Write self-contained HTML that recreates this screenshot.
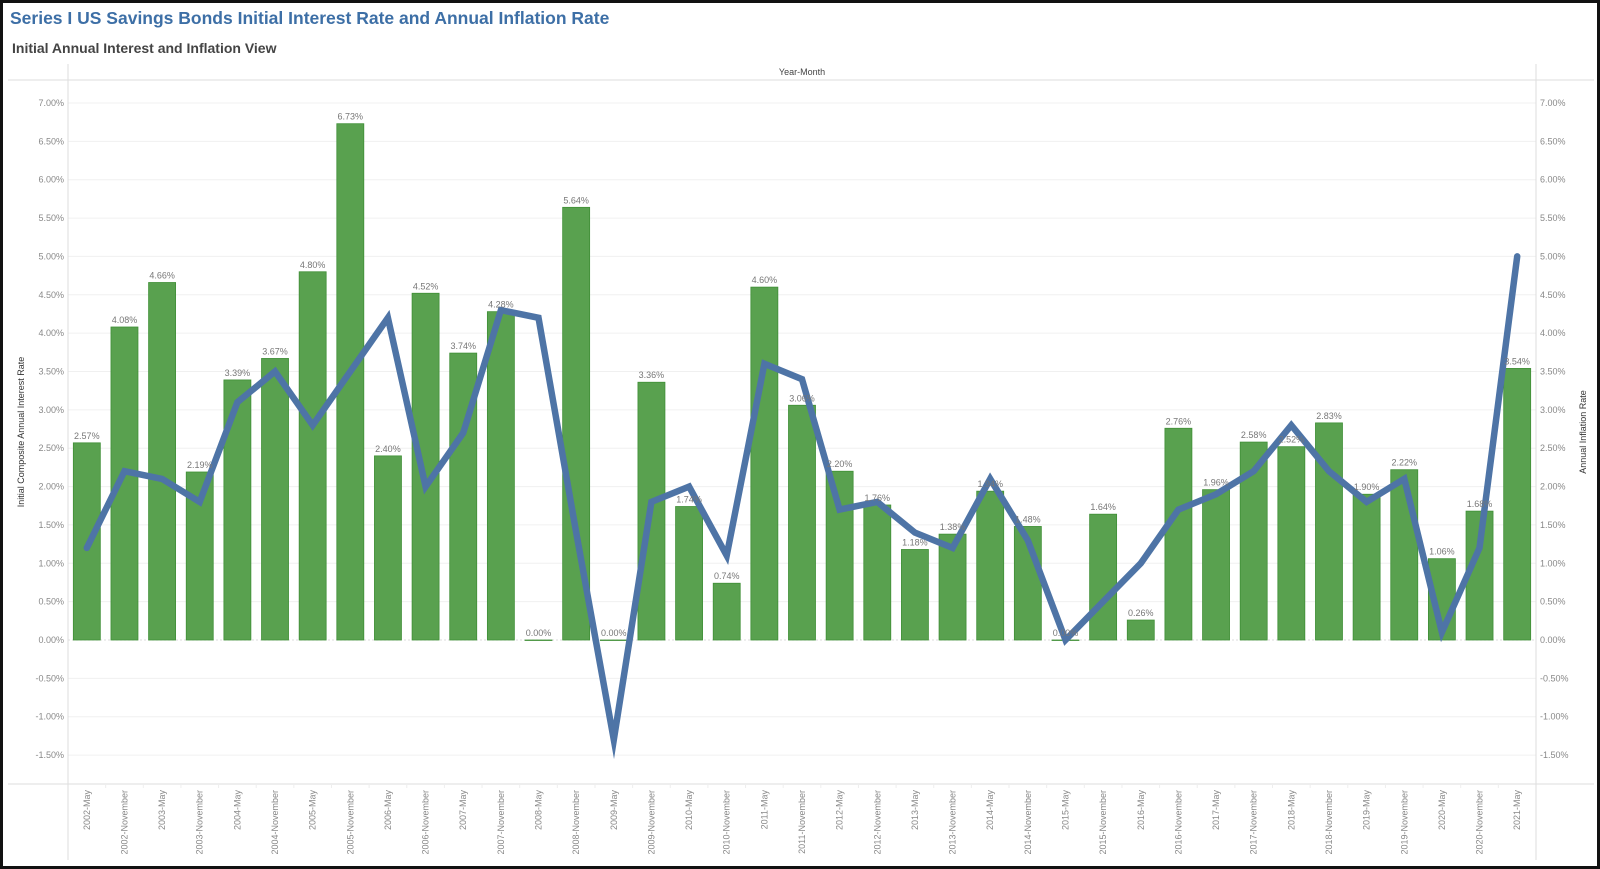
<!DOCTYPE html>
<html><head><meta charset="utf-8"><style>
body{margin:0;width:1600px;height:869px;overflow:hidden;background:#fff;font-family:"Liberation Sans",sans-serif}
#frame{position:absolute;left:0;top:0;width:1594px;height:863px;border:3px solid #111;background:#fff}
</style></head><body>
<div id="frame"></div>
<svg id="chart" width="1600" height="869" style="position:absolute;left:0;top:0">
<text x="10" y="24" font-size="17.5" font-weight="bold" fill="#3d6fa6">Series I US Savings Bonds Initial Interest Rate and Annual Inflation Rate</text>
<text x="12" y="53" font-size="14" font-weight="bold" fill="#444">Initial Annual Interest and Inflation View</text>
<text x="802" y="75" font-size="9" fill="#444" text-anchor="middle">Year-Month</text>
<text transform="translate(24,432) rotate(-90)" font-size="9" fill="#333" text-anchor="middle">Initial Composite Annual Interest Rate</text>
<text transform="translate(1586,432) rotate(-90)" font-size="9" fill="#333" text-anchor="middle">Annual Inflation Rate</text>
<g id="grid"></g><g id="bars"></g><g id="line"></g><g id="labels"></g><g id="axes"></g>
</svg>
<script>
const categories=["2002-May","2002-November","2003-May","2003-November","2004-May","2004-November","2005-May","2005-November","2006-May","2006-November","2007-May","2007-November","2008-May","2008-November","2009-May","2009-November","2010-May","2010-November","2011-May","2011-November","2012-May","2012-November","2013-May","2013-November","2014-May","2014-November","2015-May","2015-November","2016-May","2016-November","2017-May","2017-November","2018-May","2018-November","2019-May","2019-November","2020-May","2020-November","2021-May"];
const interestRates=[2.57,4.08,4.66,2.19,3.39,3.67,4.80,6.73,2.40,4.52,3.74,4.28,0.00,5.64,0.00,3.36,1.74,0.74,4.60,3.06,2.20,1.76,1.18,1.38,1.94,1.48,0.00,1.64,0.26,2.76,1.96,2.58,2.52,2.83,1.90,2.22,1.06,1.68,3.54];
const inflationRates=[1.2,2.2,2.1,1.8,3.1,3.5,2.8,3.5,4.2,2.0,2.7,4.3,4.2,1.4,-1.3,1.8,2.0,1.1,3.6,3.4,1.7,1.8,1.4,1.2,2.1,1.3,0.0,0.5,1.0,1.7,1.9,2.2,2.8,2.2,1.8,2.1,0.1,1.2,5.0];
const yTicks=[7,6.5,6,5.5,5,4.5,4,3.5,3,2.5,2,1.5,1,0.5,0,-0.5,-1,-1.5];
const NS="http://www.w3.org/2000/svg";
const L=68,R=1536,TOP=80,BOT=784;
const step=(R-L)/categories.length;
const xc=i=>L+step*(i+0.5);
const y=v=>640-v*(640-103)/7;
function mk(tag,attrs,parent,txt){const e=document.createElementNS(NS,tag);for(const k in attrs)e.setAttribute(k,attrs[k]);if(txt!=null)e.textContent=txt;document.getElementById(parent).appendChild(e);return e;}
// grid & y ticks
yTicks.forEach(t=>{
 const g=mk('line',{x1:L,x2:R,y1:y(t),y2:y(t),stroke:t===0?'#ddd':'#f0f0f0','stroke-width':1,'stroke-dasharray':t===0?'2,2':''},'grid');
 
 
 const a=mk('text',{x:L-4,y:y(t)+3,'font-size':9,fill:'#888','text-anchor':'end'},'axes',t.toFixed(2)+'%');
 
 
 const b=mk('text',{x:R+4,y:y(t)+3,'font-size':9,fill:'#888'},'axes',t.toFixed(2)+'%');
 
 
});
[[8,1600-6,TOP,TOP],[8,1600-6,BOT,BOT],[L,L,64,860],[R,R,64,860]].forEach(p=>{
 const l=mk('line',{x1:p[0],x2:p[1],y1:p[2],y2:p[3],stroke:'#ddd','stroke-width':1},'axes');
 
 
});
categories.forEach((c,i)=>{
 const v=interestRates[i],bw=27,x=xc(i)-bw/2;
 const r=mk('rect',{x:x,y:y(v),width:bw,height:Math.max(0.5,y(0)-y(v)),fill:'#59a14f',stroke:'#3f8f36','stroke-width':0.8},'bars');
 
 
 const t=mk('text',{x:xc(i),y:y(v)-4,'font-size':9,fill:'#777','text-anchor':'middle'},'labels',v.toFixed(2)+'%');
 
 
 const xl=mk('text',{transform:`translate(${xc(i)+3},790) rotate(-90)`,'font-size':9,fill:'#888','text-anchor':'end'},'axes',c);
 
 
 if(i>0){const s=mk('line',{x1:L+step*i,x2:L+step*i,y1:BOT,y2:BOT+4,stroke:'#eee'},'axes');
 
 }
});
const pts=inflationRates.map((v,i)=>xc(i).toFixed(1)+','+y(v).toFixed(1)).join(' ');
const pl=mk('polyline',{points:pts,fill:'none',stroke:'#4e74a6','stroke-width':6.5,'stroke-linejoin':'miter','stroke-linecap':'round','stroke-miterlimit':10},'line');


</script>
</body></html>
